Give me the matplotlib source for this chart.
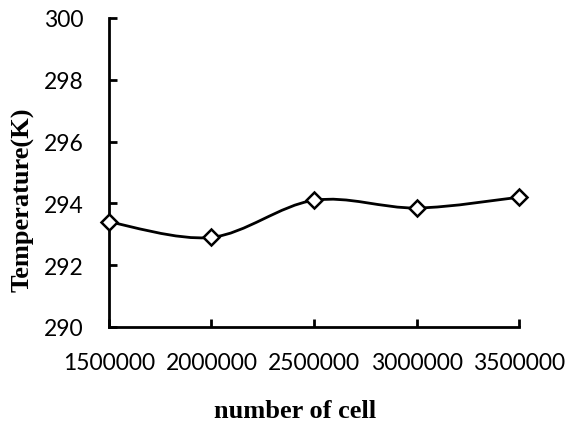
import numpy as np
import matplotlib
matplotlib.use("Agg")
import matplotlib.pyplot as plt
from matplotlib.path import Path
from matplotlib.patches import PathPatch

# ---- data ----
cells = [1500000, 2000000, 2500000, 3000000, 3500000]
temps = [293.4, 292.9, 294.1, 293.85, 294.2]
x_ticks = [1500000, 2000000, 2500000, 3000000, 3500000]
y_ticks = [290, 292, 294, 296, 298, 300]

W, H = 5.73, 4.31
L, B, AW, AH = 0.190, 0.239, 0.716, 0.717
fig = plt.figure(figsize=(W, H), dpi=100)
ax = fig.add_axes([L, B, AW, AH])
ax.set_xlim(1500000, 3500000)
ax.set_ylim(290, 300)

# ---- smoothed line (Catmull-Rom style, computed in inch space) ----
sx = AW * W / 2000000
sy = AH * H / 10
pts = np.column_stack([(np.array(cells) - 1500000) * sx,
                       (np.array(temps) - 290) * sy])
ext = np.vstack([pts[0], pts, pts[-1]])
verts = [tuple(pts[0])]
codes = [Path.MOVETO]
for i in range(len(pts) - 1):
    p0, p1, p2, p3 = ext[i], ext[i + 1], ext[i + 2], ext[i + 3]
    c1 = p1 + (p2 - p0) / 6
    c2 = p2 - (p3 - p1) / 6
    verts += [tuple(c1), tuple(c2), tuple(p2)]
    codes += [Path.CURVE4] * 3
verts = [(v[0] / sx + 1500000, v[1] / sy + 290) for v in verts]
ax.add_patch(PathPatch(Path(verts, codes), facecolor="none", edgecolor="black",
                       linewidth=2, clip_on=False, zorder=2))
ax.plot(cells, temps, linestyle="none", marker="D", markersize=8,
        markerfacecolor="white", markeredgecolor="black", markeredgewidth=1.8,
        clip_on=False, zorder=3)

# ---- axes styling ----
for s in ["top", "right"]:
    ax.spines[s].set_visible(False)
for s in ["left", "bottom"]:
    ax.spines[s].set_linewidth(2)
ax.set_xticks(x_ticks)
ax.set_yticks(y_ticks)
ax.set_xticklabels([str(v) for v in x_ticks])
ax.tick_params(direction="in", length=6, width=2, labelsize=16.5)
ax.tick_params(axis="y", pad=18)
ax.tick_params(axis="x", pad=18)
for lab in ax.get_xticklabels() + ax.get_yticklabels():
    lab.set_family("Lato")

# axis titles placed where the original has them
fig.text(295 / 573, 1 - 412 / 431, "number of cell", fontsize=19,
         fontweight="bold", family="Liberation Serif", ha="center", va="center")
fig.text(23 / 573, 1 - 200 / 431, "Temperature(K)", fontsize=19,
         fontweight="bold", family="Liberation Serif", ha="center", va="center",
         rotation=90)

fig.savefig("out.png", dpi=100)
